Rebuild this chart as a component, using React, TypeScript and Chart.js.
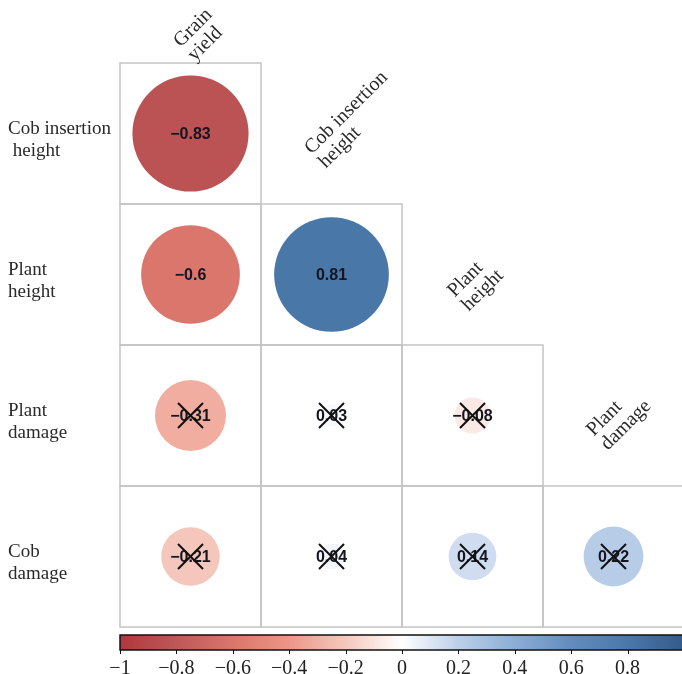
import React, { useEffect, useRef } from "react";
import { Chart, registerables } from "chart.js";

Chart.register(...registerables);

// ---- data ----
const columnVariables = ["Grain yield", "Cob insertion height", "Plant height", "Plant damage"];
const rowVariables = ["Cob insertion height", "Plant height", "Plant damage", "Cob damage"];
const colLabelLines = [["Grain", "yield"], ["Cob insertion", "height"], ["Plant", "height"], ["Plant", "damage"]];
const rowLabelLines = [["Cob insertion", " height"], ["Plant", "height"], ["Plant", "damage"], ["Cob", "damage"]];

const corrCobInsertionHeight = [-0.83];
const corrPlantHeight = [-0.6, 0.81];
const corrPlantDamage = [-0.31, 0.03, -0.08];
const corrCobDamage = [-0.21, 0.04, 0.14, 0.22];

const crossedCobInsertionHeight = [false];
const crossedPlantHeight = [false, false];
const crossedPlantDamage = [true, true, true];
const crossedCobDamage = [true, true, true, true];

const colorbarTicks = [-1, -0.8, -0.6, -0.4, -0.2, 0, 0.2, 0.4, 0.6, 0.8];

// ---- style ----
const colorStopValues = [-1, -0.8, -0.6, -0.4, -0.2, 0, 0.2, 0.4, 0.6, 0.8, 1];
const colorStopColors = [
  [176, 55, 60], [189, 88, 88], [218, 118, 108], [236, 150, 136], [245, 200, 190],
  [255, 255, 255], [188, 207, 233], [140, 174, 214], [98, 140, 190], [74, 120, 170], [50, 92, 138],
];
const serif = '"Liberation Serif", "Times New Roman", serif';
const sans = '"Liberation Sans", Arial, sans-serif';
// anchor offsets of the rotated column labels from the lower-left corner of the diagonal cell
const colLabelOffsets = [[57, -19], [47, -53], [49, -51], [47, -53]];

function corrColor(v: number): string {
  for (let i = 0; i < colorStopValues.length - 1; i++) {
    const a = colorStopValues[i], b = colorStopValues[i + 1];
    if (v >= a && v <= b) {
      const t = (v - a) / (b - a);
      const c1 = colorStopColors[i], c2 = colorStopColors[i + 1];
      const c = c1.map((x, k) => Math.round(x + (c2[k] - x) * t));
      return `rgb(${c[0]},${c[1]},${c[2]})`;
    }
  }
  return "#fff";
}

function fmt(v: number): string {
  return v < 0 ? "\u2212" + String(Math.abs(v)) : String(v);
}

const corrRows = [corrCobInsertionHeight, corrPlantHeight, corrPlantDamage, corrCobDamage];
const crossedRows = [crossedCobInsertionHeight, crossedPlantHeight, crossedPlantDamage, crossedCobDamage];

type Pt = { x: number; y: number; v: number; crossed: boolean };
const points: Pt[] = [];
corrRows.forEach((row, i) => row.forEach((v, j) => points.push({ x: j, y: i, v, crossed: crossedRows[i][j] })));

const corrPlugin = {
  id: "corrPlugin",
  beforeDatasetsDraw(chart: any) {
    const { ctx, scales } = chart;
    const xs = scales.x, ys = scales.y;
    ctx.save();
    ctx.strokeStyle = "#c4c4c4";
    ctx.lineWidth = 1.5;
    for (let i = 0; i < rowVariables.length; i++) {
      for (let j = 0; j <= i; j++) {
        const x0 = xs.getPixelForValue(j - 0.5), x1 = xs.getPixelForValue(j + 0.5);
        const y0 = ys.getPixelForValue(i - 0.5), y1 = ys.getPixelForValue(i + 0.5);
        ctx.strokeRect(x0, y0, x1 - x0, y1 - y0);
      }
    }
    ctx.restore();
  },
  afterDatasetsDraw(chart: any) {
    const { ctx, scales } = chart;
    const xs = scales.x, ys = scales.y;
    ctx.save();
    // values and crosses
    ctx.textAlign = "center";
    ctx.textBaseline = "middle";
    ctx.font = `bold 16px ${sans}`;
    points.forEach((p) => {
      const cx = xs.getPixelForValue(p.x), cy = ys.getPixelForValue(p.y);
      ctx.fillStyle = "#151520";
      ctx.fillText(fmt(p.v), cx, cy + 1);
      if (p.crossed) {
        ctx.strokeStyle = "#111";
        ctx.lineWidth = 2;
        const h = 12.5;
        ctx.beginPath();
        ctx.moveTo(cx - h, cy - h); ctx.lineTo(cx + h, cy + h);
        ctx.moveTo(cx + h, cy - h); ctx.lineTo(cx - h, cy + h);
        ctx.stroke();
      }
    });
    // row labels
    ctx.fillStyle = "#2a2a2a";
    ctx.font = `19px ${serif}`;
    ctx.textAlign = "left";
    rowLabelLines.forEach((lines, i) => {
      const cy = ys.getPixelForValue(i);
      lines.forEach((l, k) => ctx.fillText(l, 8, cy - 4 + k * 22));
    });
    // rotated column labels
    ctx.font = `20px ${serif}`;
    colLabelLines.forEach((lines, j) => {
      const ax = xs.getPixelForValue(j - 0.5) + colLabelOffsets[j][0];
      const ay = ys.getPixelForValue(j - 1 + 0.5) + colLabelOffsets[j][1];
      ctx.save();
      ctx.translate(ax, ay);
      ctx.rotate(-Math.PI / 4);
      lines.forEach((l, k) => ctx.fillText(l, 0, k * 20));
      ctx.restore();
    });
    // colorbar
    const bx0 = xs.getPixelForValue(-0.5), bx1 = xs.getPixelForValue(3.5);
    const by0 = ys.getPixelForValue(3.5) + 8, by1 = by0 + 15;
    const grad = ctx.createLinearGradient(bx0, 0, bx1, 0);
    colorStopValues.forEach((v, k) => {
      const c = colorStopColors[k];
      grad.addColorStop((v + 1) / 2, `rgb(${c[0]},${c[1]},${c[2]})`);
    });
    ctx.fillStyle = grad;
    ctx.fillRect(bx0, by0, bx1 - bx0, by1 - by0);
    ctx.strokeStyle = "#111";
    ctx.lineWidth = 1.5;
    ctx.strokeRect(bx0, by0, bx1 - bx0, by1 - by0);
    const vx = (v: number) => bx0 + ((v + 1) / 2) * (bx1 - bx0);
    ctx.lineWidth = 1;
    ctx.fillStyle = "#222";
    ctx.font = `20px ${serif}`;
    ctx.textAlign = "center";
    ctx.textBaseline = "alphabetic";
    colorbarTicks.forEach((t) => {
      const x = Math.round(vx(t)) + 0.5;
      ctx.beginPath();
      ctx.moveTo(x, by1);
      ctx.lineTo(x, by1 + 4);
      ctx.stroke();
      ctx.fillText(fmt(t), vx(t), by1 + 24);
    });
    ctx.restore();
  },
};

export default function App() {
  const ref = useRef<HTMLCanvasElement>(null);
  useEffect(() => {
    if (!ref.current) return;
    const radius = (c: any) => {
      const xs = c.chart.scales.x;
      if (!xs || !c.raw) return 0;
      const cell = Math.abs(xs.getPixelForValue(1) - xs.getPixelForValue(0));
      return 0.452 * cell * Math.sqrt(Math.abs(c.raw.v));
    };
    const chart = new Chart(ref.current, {
      type: "scatter",
      data: {
        datasets: [
          {
            label: "correlation",
            data: points as any,
            pointRadius: radius,
            pointHoverRadius: radius,
            pointBackgroundColor: (c: any) => (c.raw ? corrColor(c.raw.v) : "#fff"),
            pointBorderWidth: 0,
            pointBorderColor: "rgba(0,0,0,0)",
          } as any,
        ],
      },
      options: {
        animation: false,
        responsive: false,
        events: [],
        layout: { padding: { left: 120, top: 63, right: 0, bottom: 47 } },
        plugins: { legend: { display: false }, tooltip: { enabled: false } },
        scales: {
          x: { type: "linear", min: -0.5, max: -0.5 + (4 * 562) / 564, display: false },
          y: { type: "linear", min: -0.5, max: 3.5, reverse: true, display: false },
        },
      },
      plugins: [corrPlugin],
    });
    return () => chart.destroy();
  }, []);
  return (
    <div style={{ position: "fixed", left: 0, top: 0, width: 682, height: 674, background: "#fff" }}>
      <canvas ref={ref} width={682} height={674} style={{ display: "block" }} />
    </div>
  );
}
